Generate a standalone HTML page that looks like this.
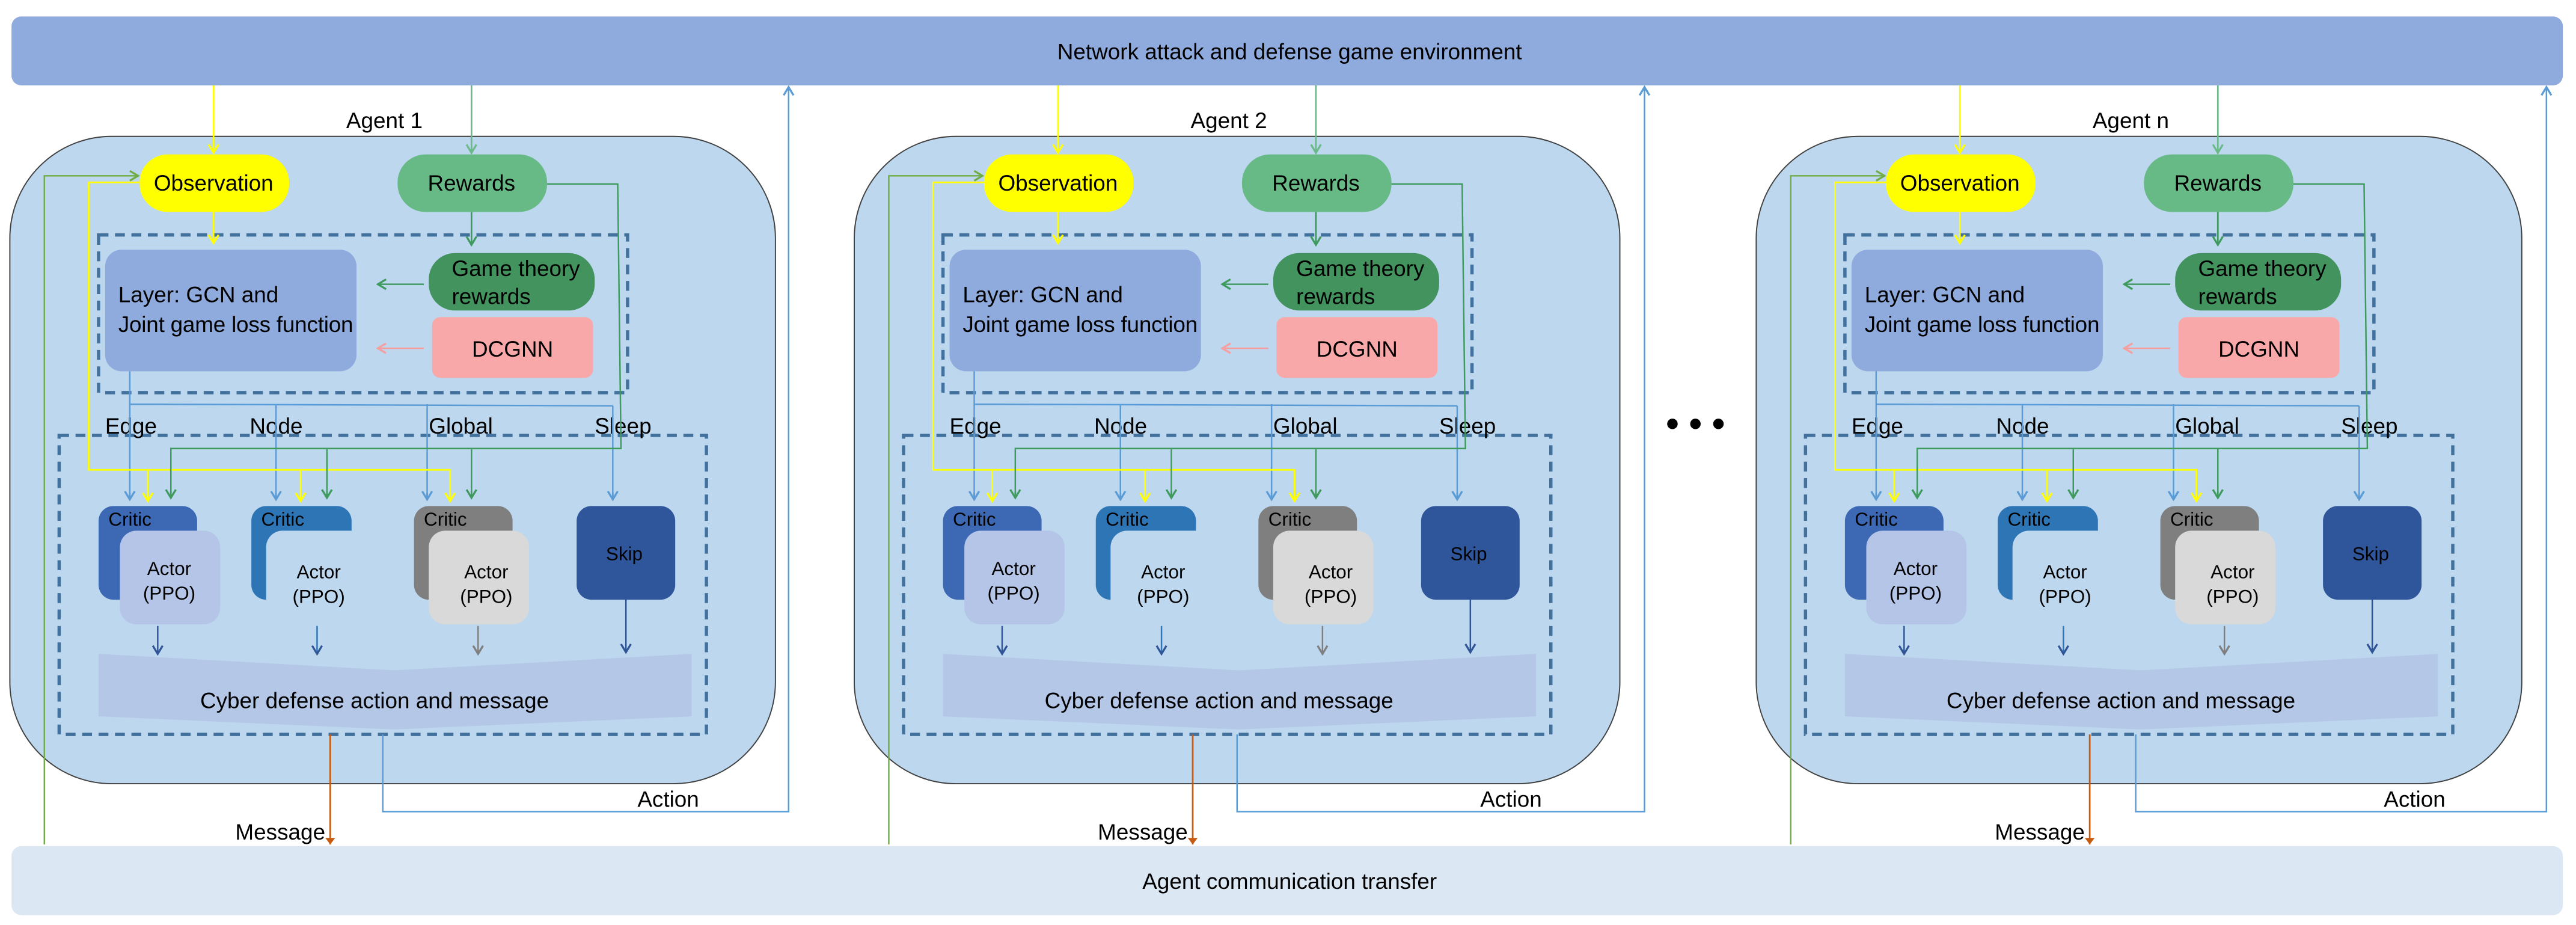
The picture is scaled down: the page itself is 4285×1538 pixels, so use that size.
<!DOCTYPE html>
<html><head><meta charset="utf-8"><style>
html,body{margin:0;padding:0;background:#fff}
svg{display:block}
text{font-family:"Liberation Sans",sans-serif;fill:#000}
</style></head><body>
<svg width="4285" height="1538" viewBox="0 0 1568 563" preserveAspectRatio="none" xmlns="http://www.w3.org/2000/svg">
<defs>
<marker id="aY" markerWidth="8" markerHeight="8" refX="7" refY="4" orient="auto" markerUnits="userSpaceOnUse" viewBox="0 0 8 8"><path d="M2,1 L7,4 L2,7" fill="none" stroke="#ffff00" stroke-width="1.2"/></marker>
<marker id="aG" markerWidth="8" markerHeight="8" refX="7" refY="4" orient="auto" markerUnits="userSpaceOnUse" viewBox="0 0 8 8"><path d="M2,1 L7,4 L2,7" fill="none" stroke="#3f9a5e" stroke-width="1.2"/></marker>
<marker id="aLG" markerWidth="8" markerHeight="8" refX="7" refY="4" orient="auto" markerUnits="userSpaceOnUse" viewBox="0 0 8 8"><path d="M2,1 L7,4 L2,7" fill="none" stroke="#6aba8a" stroke-width="1.2"/></marker>
<marker id="aB" markerWidth="8" markerHeight="8" refX="7" refY="4" orient="auto" markerUnits="userSpaceOnUse" viewBox="0 0 8 8"><path d="M2,1 L7,4 L2,7" fill="none" stroke="#5b9bd5" stroke-width="1.2"/></marker>
<marker id="aDB" markerWidth="8" markerHeight="8" refX="7" refY="4" orient="auto" markerUnits="userSpaceOnUse" viewBox="0 0 8 8"><path d="M2,1 L7,4 L2,7" fill="none" stroke="#2f5597" stroke-width="1.2"/></marker>
<marker id="aGr" markerWidth="8" markerHeight="8" refX="7" refY="4" orient="auto" markerUnits="userSpaceOnUse" viewBox="0 0 8 8"><path d="M2,1 L7,4 L2,7" fill="none" stroke="#7f7f7f" stroke-width="1.2"/></marker>
<marker id="aP" markerWidth="8" markerHeight="8" refX="7" refY="4" orient="auto" markerUnits="userSpaceOnUse" viewBox="0 0 8 8"><path d="M2,1 L7,4 L2,7" fill="none" stroke="#f4a0a0" stroke-width="1.2"/></marker>
<marker id="aL" markerWidth="8" markerHeight="8" refX="7" refY="4" orient="auto" markerUnits="userSpaceOnUse" viewBox="0 0 8 8"><path d="M2,1 L7,4 L2,7" fill="none" stroke="#70ad47" stroke-width="1.2"/></marker>
<marker id="aO" markerWidth="6" markerHeight="6" refX="5" refY="3" orient="auto" markerUnits="userSpaceOnUse" viewBox="0 0 6 6"><path d="M1,0 L5,3 L1,6 Z" fill="#c55a11"/></marker>
</defs>

<rect x="7" y="10" width="1553" height="42" rx="6" fill="#8faadc"/>
<text x="785" y="36" font-size="13.5" text-anchor="middle">Network attack and defense game environment</text>
<rect x="7" y="515" width="1553" height="42" rx="6" fill="#dce7f4"/>
<text x="785" y="541" font-size="13.5" text-anchor="middle">Agent communication transfer</text>

<!-- ===== AGENT 1 ===== -->
<g>
<rect x="6" y="83" width="466" height="394" rx="62" fill="#bdd7ee" stroke="#404040" stroke-width="0.7"/>
<text x="234" y="78" font-size="13.5" text-anchor="middle">Agent 1</text>
<path d="M27,514 L27,107 L84,107" fill="none" stroke="#70ad47" stroke-width="0.9" marker-end="url(#aL)"/>
<line x1="130" y1="52" x2="130" y2="93" stroke="#ffff00" stroke-width="1" marker-end="url(#aY)"/>
<line x1="287" y1="52" x2="287" y2="93" stroke="#6aba8a" stroke-width="1" marker-end="url(#aLG)"/>
<rect x="85" y="94" width="91" height="35" rx="17" fill="#ffff00"/>
<text x="130" y="116" font-size="13.5" text-anchor="middle">Observation</text>
<rect x="242" y="94" width="91" height="35" rx="17" fill="#67ba86"/>
<text x="287" y="116" font-size="13.5" text-anchor="middle">Rewards</text>
<rect x="60" y="143" width="322" height="96" fill="none" stroke="#41719c" stroke-width="2" stroke-dasharray="6 4"/>
<rect x="64" y="152" width="153" height="74" rx="10" fill="#8faadc"/>
<text x="72" y="184" font-size="13.5">Layer:  GCN and</text>
<text x="72" y="202" font-size="13.5" textLength="143">Joint game loss function</text>
<rect x="261" y="154" width="101" height="35" rx="16" fill="#43935f"/>
<text x="275" y="168" font-size="13.5">Game theory</text>
<text x="275" y="185" font-size="13.5">rewards</text>
<rect x="263" y="193" width="98" height="37" rx="5" fill="#f8a8a8"/>
<text x="312" y="217" font-size="13.5" text-anchor="middle">DCGNN</text>
<line x1="258" y1="173" x2="230" y2="173" stroke="#3f9a5e" stroke-width="0.9" marker-end="url(#aG)"/>
<line x1="258" y1="212" x2="230" y2="212" stroke="#f4a0a0" stroke-width="0.9" marker-end="url(#aP)"/>
<line x1="130" y1="129" x2="130" y2="148" stroke="#ffff00" stroke-width="1" marker-end="url(#aY)"/>
<line x1="287" y1="129" x2="287" y2="149" stroke="#3f9a5e" stroke-width="1" marker-end="url(#aG)"/>
<rect x="36" y="265" width="394" height="182" fill="none" stroke="#41719c" stroke-width="2" stroke-dasharray="6 4"/>
<text x="64" y="264" font-size="13.5">Edge</text>
<text x="152" y="264" font-size="13.5">Node</text>
<text x="261" y="264" font-size="13.5">Global</text>
<text x="362" y="264" font-size="13.5">Sleep</text>
<path d="M79,226 L79,304 M79,246 L373,247 M168,246 L168,304 M260,246 L260,304 M373,247 L373,304" fill="none" stroke="#5b9bd5" stroke-width="0.9"/>
<line x1="79" y1="300" x2="79" y2="304" stroke="#5b9bd5" marker-end="url(#aB)"/>
<line x1="168" y1="300" x2="168" y2="304" stroke="#5b9bd5" marker-end="url(#aB)"/>
<line x1="260" y1="300" x2="260" y2="304" stroke="#5b9bd5" marker-end="url(#aB)"/>
<line x1="373" y1="300" x2="373" y2="304" stroke="#5b9bd5" marker-end="url(#aB)"/>
<path d="M85,111 L54,111 L54,286 L274,286 L274,304 M90,286 L90,304 M183,286 L183,304" fill="none" stroke="#ffff00" stroke-width="1"/>
<line x1="90" y1="300" x2="90" y2="305" stroke="#ffff00" marker-end="url(#aY)"/>
<line x1="183" y1="300" x2="183" y2="305" stroke="#ffff00" marker-end="url(#aY)"/>
<line x1="274" y1="300" x2="274" y2="305" stroke="#ffff00" marker-end="url(#aY)"/>
<path d="M333,112 L376,112 L378,273 L104,273 L104,303 M199,273 L199,303 M287,273 L287,303" fill="none" stroke="#3f9a5e" stroke-width="0.9"/>
<line x1="104" y1="299" x2="104" y2="303" stroke="#3f9a5e" marker-end="url(#aG)"/>
<line x1="199" y1="299" x2="199" y2="303" stroke="#3f9a5e" marker-end="url(#aG)"/>
<line x1="287" y1="299" x2="287" y2="303" stroke="#3f9a5e" marker-end="url(#aG)"/>
<rect x="60" y="308" width="60" height="57" rx="9" fill="#3c68b4"/>
<rect x="73" y="323" width="61" height="57" rx="10" fill="#b4c5e8"/>
<text x="66" y="320" font-size="11.5">Critic</text>
<text x="103" y="350" font-size="11.5" text-anchor="middle">Actor</text>
<text x="103" y="365" font-size="11.5" text-anchor="middle">(PPO)</text>
<rect x="153" y="308" width="61" height="57" rx="9" fill="#2e75b6"/>
<rect x="162" y="323" width="61" height="57" rx="10" fill="#bdd7ee"/>
<text x="159" y="320" font-size="11.5">Critic</text>
<text x="194" y="352" font-size="11.5" text-anchor="middle">Actor</text>
<text x="194" y="367" font-size="11.5" text-anchor="middle">(PPO)</text>
<rect x="252" y="308" width="60" height="57" rx="9" fill="#7f7f7f"/>
<rect x="261" y="323" width="61" height="57" rx="10" fill="#d9d9d9"/>
<text x="258" y="320" font-size="11.5">Critic</text>
<text x="296" y="352" font-size="11.5" text-anchor="middle">Actor</text>
<text x="296" y="367" font-size="11.5" text-anchor="middle">(PPO)</text>
<rect x="351" y="308" width="60" height="57" rx="9" fill="#2f559b"/>
<text x="380" y="341" font-size="11.5" text-anchor="middle">Skip</text>
<line x1="96" y1="381" x2="96" y2="398" stroke="#2f5597" stroke-width="0.9" marker-end="url(#aDB)"/>
<line x1="193" y1="381" x2="193" y2="398" stroke="#2e75b6" stroke-width="0.9" marker-end="url(#aDB)"/>
<line x1="291" y1="381" x2="291" y2="398" stroke="#7f7f7f" stroke-width="0.9" marker-end="url(#aGr)"/>
<line x1="381" y1="365" x2="381" y2="397" stroke="#2f5597" stroke-width="0.9" marker-end="url(#aDB)"/>
<polygon points="60,398 240,408 421,398 421,436 240,444 60,436" fill="#b4c7e7"/>
<text x="228" y="431" font-size="13.5" text-anchor="middle">Cyber defense action and message</text>
</g>

<!-- ===== AGENT 2 ===== -->
<g transform="translate(514,0)">
<rect x="6" y="83" width="466" height="394" rx="62" fill="#bdd7ee" stroke="#404040" stroke-width="0.7"/>
<text x="234" y="78" font-size="13.5" text-anchor="middle">Agent 2</text>
<path d="M27,514 L27,107 L84,107" fill="none" stroke="#70ad47" stroke-width="0.9" marker-end="url(#aL)"/>
<line x1="130" y1="52" x2="130" y2="93" stroke="#ffff00" stroke-width="1" marker-end="url(#aY)"/>
<line x1="287" y1="52" x2="287" y2="93" stroke="#6aba8a" stroke-width="1" marker-end="url(#aLG)"/>
<rect x="85" y="94" width="91" height="35" rx="17" fill="#ffff00"/>
<text x="130" y="116" font-size="13.5" text-anchor="middle">Observation</text>
<rect x="242" y="94" width="91" height="35" rx="17" fill="#67ba86"/>
<text x="287" y="116" font-size="13.5" text-anchor="middle">Rewards</text>
<rect x="60" y="143" width="322" height="96" fill="none" stroke="#41719c" stroke-width="2" stroke-dasharray="6 4"/>
<rect x="64" y="152" width="153" height="74" rx="10" fill="#8faadc"/>
<text x="72" y="184" font-size="13.5">Layer:  GCN and</text>
<text x="72" y="202" font-size="13.5" textLength="143">Joint game loss function</text>
<rect x="261" y="154" width="101" height="35" rx="16" fill="#43935f"/>
<text x="275" y="168" font-size="13.5">Game theory</text>
<text x="275" y="185" font-size="13.5">rewards</text>
<rect x="263" y="193" width="98" height="37" rx="5" fill="#f8a8a8"/>
<text x="312" y="217" font-size="13.5" text-anchor="middle">DCGNN</text>
<line x1="258" y1="173" x2="230" y2="173" stroke="#3f9a5e" stroke-width="0.9" marker-end="url(#aG)"/>
<line x1="258" y1="212" x2="230" y2="212" stroke="#f4a0a0" stroke-width="0.9" marker-end="url(#aP)"/>
<line x1="130" y1="129" x2="130" y2="148" stroke="#ffff00" stroke-width="1" marker-end="url(#aY)"/>
<line x1="287" y1="129" x2="287" y2="149" stroke="#3f9a5e" stroke-width="1" marker-end="url(#aG)"/>
<rect x="36" y="265" width="394" height="182" fill="none" stroke="#41719c" stroke-width="2" stroke-dasharray="6 4"/>
<text x="64" y="264" font-size="13.5">Edge</text>
<text x="152" y="264" font-size="13.5">Node</text>
<text x="261" y="264" font-size="13.5">Global</text>
<text x="362" y="264" font-size="13.5">Sleep</text>
<path d="M79,226 L79,304 M79,246 L373,247 M168,246 L168,304 M260,246 L260,304 M373,247 L373,304" fill="none" stroke="#5b9bd5" stroke-width="0.9"/>
<line x1="79" y1="300" x2="79" y2="304" stroke="#5b9bd5" marker-end="url(#aB)"/>
<line x1="168" y1="300" x2="168" y2="304" stroke="#5b9bd5" marker-end="url(#aB)"/>
<line x1="260" y1="300" x2="260" y2="304" stroke="#5b9bd5" marker-end="url(#aB)"/>
<line x1="373" y1="300" x2="373" y2="304" stroke="#5b9bd5" marker-end="url(#aB)"/>
<path d="M85,111 L54,111 L54,286 L274,286 L274,304 M90,286 L90,304 M183,286 L183,304" fill="none" stroke="#ffff00" stroke-width="1"/>
<line x1="90" y1="300" x2="90" y2="305" stroke="#ffff00" marker-end="url(#aY)"/>
<line x1="183" y1="300" x2="183" y2="305" stroke="#ffff00" marker-end="url(#aY)"/>
<line x1="274" y1="300" x2="274" y2="305" stroke="#ffff00" marker-end="url(#aY)"/>
<path d="M333,112 L376,112 L378,273 L104,273 L104,303 M199,273 L199,303 M287,273 L287,303" fill="none" stroke="#3f9a5e" stroke-width="0.9"/>
<line x1="104" y1="299" x2="104" y2="303" stroke="#3f9a5e" marker-end="url(#aG)"/>
<line x1="199" y1="299" x2="199" y2="303" stroke="#3f9a5e" marker-end="url(#aG)"/>
<line x1="287" y1="299" x2="287" y2="303" stroke="#3f9a5e" marker-end="url(#aG)"/>
<rect x="60" y="308" width="60" height="57" rx="9" fill="#3c68b4"/>
<rect x="73" y="323" width="61" height="57" rx="10" fill="#b4c5e8"/>
<text x="66" y="320" font-size="11.5">Critic</text>
<text x="103" y="350" font-size="11.5" text-anchor="middle">Actor</text>
<text x="103" y="365" font-size="11.5" text-anchor="middle">(PPO)</text>
<rect x="153" y="308" width="61" height="57" rx="9" fill="#2e75b6"/>
<rect x="162" y="323" width="61" height="57" rx="10" fill="#bdd7ee"/>
<text x="159" y="320" font-size="11.5">Critic</text>
<text x="194" y="352" font-size="11.5" text-anchor="middle">Actor</text>
<text x="194" y="367" font-size="11.5" text-anchor="middle">(PPO)</text>
<rect x="252" y="308" width="60" height="57" rx="9" fill="#7f7f7f"/>
<rect x="261" y="323" width="61" height="57" rx="10" fill="#d9d9d9"/>
<text x="258" y="320" font-size="11.5">Critic</text>
<text x="296" y="352" font-size="11.5" text-anchor="middle">Actor</text>
<text x="296" y="367" font-size="11.5" text-anchor="middle">(PPO)</text>
<rect x="351" y="308" width="60" height="57" rx="9" fill="#2f559b"/>
<text x="380" y="341" font-size="11.5" text-anchor="middle">Skip</text>
<line x1="96" y1="381" x2="96" y2="398" stroke="#2f5597" stroke-width="0.9" marker-end="url(#aDB)"/>
<line x1="193" y1="381" x2="193" y2="398" stroke="#2e75b6" stroke-width="0.9" marker-end="url(#aDB)"/>
<line x1="291" y1="381" x2="291" y2="398" stroke="#7f7f7f" stroke-width="0.9" marker-end="url(#aGr)"/>
<line x1="381" y1="365" x2="381" y2="397" stroke="#2f5597" stroke-width="0.9" marker-end="url(#aDB)"/>
<polygon points="60,398 240,408 421,398 421,436 240,444 60,436" fill="#b4c7e7"/>
<text x="228" y="431" font-size="13.5" text-anchor="middle">Cyber defense action and message</text>
</g>

<!-- ===== AGENT n ===== -->
<g transform="translate(1063,0)">
<rect x="6" y="83" width="466" height="394" rx="62" fill="#bdd7ee" stroke="#404040" stroke-width="0.7"/>
<text x="234" y="78" font-size="13.5" text-anchor="middle">Agent n</text>
<path d="M27,514 L27,107 L84,107" fill="none" stroke="#70ad47" stroke-width="0.9" marker-end="url(#aL)"/>
<line x1="130" y1="52" x2="130" y2="93" stroke="#ffff00" stroke-width="1" marker-end="url(#aY)"/>
<line x1="287" y1="52" x2="287" y2="93" stroke="#6aba8a" stroke-width="1" marker-end="url(#aLG)"/>
<rect x="85" y="94" width="91" height="35" rx="17" fill="#ffff00"/>
<text x="130" y="116" font-size="13.5" text-anchor="middle">Observation</text>
<rect x="242" y="94" width="91" height="35" rx="17" fill="#67ba86"/>
<text x="287" y="116" font-size="13.5" text-anchor="middle">Rewards</text>
<rect x="60" y="143" width="322" height="96" fill="none" stroke="#41719c" stroke-width="2" stroke-dasharray="6 4"/>
<rect x="64" y="152" width="153" height="74" rx="10" fill="#8faadc"/>
<text x="72" y="184" font-size="13.5">Layer:  GCN and</text>
<text x="72" y="202" font-size="13.5" textLength="143">Joint game loss function</text>
<rect x="261" y="154" width="101" height="35" rx="16" fill="#43935f"/>
<text x="275" y="168" font-size="13.5">Game theory</text>
<text x="275" y="185" font-size="13.5">rewards</text>
<rect x="263" y="193" width="98" height="37" rx="5" fill="#f8a8a8"/>
<text x="312" y="217" font-size="13.5" text-anchor="middle">DCGNN</text>
<line x1="258" y1="173" x2="230" y2="173" stroke="#3f9a5e" stroke-width="0.9" marker-end="url(#aG)"/>
<line x1="258" y1="212" x2="230" y2="212" stroke="#f4a0a0" stroke-width="0.9" marker-end="url(#aP)"/>
<line x1="130" y1="129" x2="130" y2="148" stroke="#ffff00" stroke-width="1" marker-end="url(#aY)"/>
<line x1="287" y1="129" x2="287" y2="149" stroke="#3f9a5e" stroke-width="1" marker-end="url(#aG)"/>
<rect x="36" y="265" width="394" height="182" fill="none" stroke="#41719c" stroke-width="2" stroke-dasharray="6 4"/>
<text x="64" y="264" font-size="13.5">Edge</text>
<text x="152" y="264" font-size="13.5">Node</text>
<text x="261" y="264" font-size="13.5">Global</text>
<text x="362" y="264" font-size="13.5">Sleep</text>
<path d="M79,226 L79,304 M79,246 L373,247 M168,246 L168,304 M260,246 L260,304 M373,247 L373,304" fill="none" stroke="#5b9bd5" stroke-width="0.9"/>
<line x1="79" y1="300" x2="79" y2="304" stroke="#5b9bd5" marker-end="url(#aB)"/>
<line x1="168" y1="300" x2="168" y2="304" stroke="#5b9bd5" marker-end="url(#aB)"/>
<line x1="260" y1="300" x2="260" y2="304" stroke="#5b9bd5" marker-end="url(#aB)"/>
<line x1="373" y1="300" x2="373" y2="304" stroke="#5b9bd5" marker-end="url(#aB)"/>
<path d="M85,111 L54,111 L54,286 L274,286 L274,304 M90,286 L90,304 M183,286 L183,304" fill="none" stroke="#ffff00" stroke-width="1"/>
<line x1="90" y1="300" x2="90" y2="305" stroke="#ffff00" marker-end="url(#aY)"/>
<line x1="183" y1="300" x2="183" y2="305" stroke="#ffff00" marker-end="url(#aY)"/>
<line x1="274" y1="300" x2="274" y2="305" stroke="#ffff00" marker-end="url(#aY)"/>
<path d="M333,112 L376,112 L378,273 L104,273 L104,303 M199,273 L199,303 M287,273 L287,303" fill="none" stroke="#3f9a5e" stroke-width="0.9"/>
<line x1="104" y1="299" x2="104" y2="303" stroke="#3f9a5e" marker-end="url(#aG)"/>
<line x1="199" y1="299" x2="199" y2="303" stroke="#3f9a5e" marker-end="url(#aG)"/>
<line x1="287" y1="299" x2="287" y2="303" stroke="#3f9a5e" marker-end="url(#aG)"/>
<rect x="60" y="308" width="60" height="57" rx="9" fill="#3c68b4"/>
<rect x="73" y="323" width="61" height="57" rx="10" fill="#b4c5e8"/>
<text x="66" y="320" font-size="11.5">Critic</text>
<text x="103" y="350" font-size="11.5" text-anchor="middle">Actor</text>
<text x="103" y="365" font-size="11.5" text-anchor="middle">(PPO)</text>
<rect x="153" y="308" width="61" height="57" rx="9" fill="#2e75b6"/>
<rect x="162" y="323" width="61" height="57" rx="10" fill="#bdd7ee"/>
<text x="159" y="320" font-size="11.5">Critic</text>
<text x="194" y="352" font-size="11.5" text-anchor="middle">Actor</text>
<text x="194" y="367" font-size="11.5" text-anchor="middle">(PPO)</text>
<rect x="252" y="308" width="60" height="57" rx="9" fill="#7f7f7f"/>
<rect x="261" y="323" width="61" height="57" rx="10" fill="#d9d9d9"/>
<text x="258" y="320" font-size="11.5">Critic</text>
<text x="296" y="352" font-size="11.5" text-anchor="middle">Actor</text>
<text x="296" y="367" font-size="11.5" text-anchor="middle">(PPO)</text>
<rect x="351" y="308" width="60" height="57" rx="9" fill="#2f559b"/>
<text x="380" y="341" font-size="11.5" text-anchor="middle">Skip</text>
<line x1="96" y1="381" x2="96" y2="398" stroke="#2f5597" stroke-width="0.9" marker-end="url(#aDB)"/>
<line x1="193" y1="381" x2="193" y2="398" stroke="#2e75b6" stroke-width="0.9" marker-end="url(#aDB)"/>
<line x1="291" y1="381" x2="291" y2="398" stroke="#7f7f7f" stroke-width="0.9" marker-end="url(#aGr)"/>
<line x1="381" y1="365" x2="381" y2="397" stroke="#2f5597" stroke-width="0.9" marker-end="url(#aDB)"/>
<polygon points="60,398 240,408 421,398 421,436 240,444 60,436" fill="#b4c7e7"/>
<text x="228" y="431" font-size="13.5" text-anchor="middle">Cyber defense action and message</text>
</g>

<line x1="201" y1="447" x2="201" y2="514" stroke="#c55a11" stroke-width="1" marker-end="url(#aO)"/>
<text x="198" y="511" font-size="13.5" text-anchor="end">Message</text>
<path d="M233,447 L233,494 L480,494 L480,53" fill="none" stroke="#5b9bd5" stroke-width="0.9" marker-end="url(#aB)"/>
<text x="388" y="491" font-size="13.5">Action</text>

<line x1="726" y1="447" x2="726" y2="514" stroke="#c55a11" stroke-width="1" marker-end="url(#aO)"/>
<text x="723" y="511" font-size="13.5" text-anchor="end">Message</text>
<path d="M753,447 L753,494 L1001,494 L1001,53" fill="none" stroke="#5b9bd5" stroke-width="0.9" marker-end="url(#aB)"/>
<text x="901" y="491" font-size="13.5">Action</text>

<line x1="1272" y1="447" x2="1272" y2="514" stroke="#c55a11" stroke-width="1" marker-end="url(#aO)"/>
<text x="1269" y="511" font-size="13.5" text-anchor="end">Message</text>
<path d="M1300,447 L1300,494 L1550,494 L1550,53" fill="none" stroke="#5b9bd5" stroke-width="0.9" marker-end="url(#aB)"/>
<text x="1451" y="491" font-size="13.5">Action</text>

<circle cx="1018" cy="258" r="3.2" fill="#000"/>
<circle cx="1032" cy="258" r="3.2" fill="#000"/>
<circle cx="1046" cy="258" r="3.2" fill="#000"/>
</svg>
</body></html>
